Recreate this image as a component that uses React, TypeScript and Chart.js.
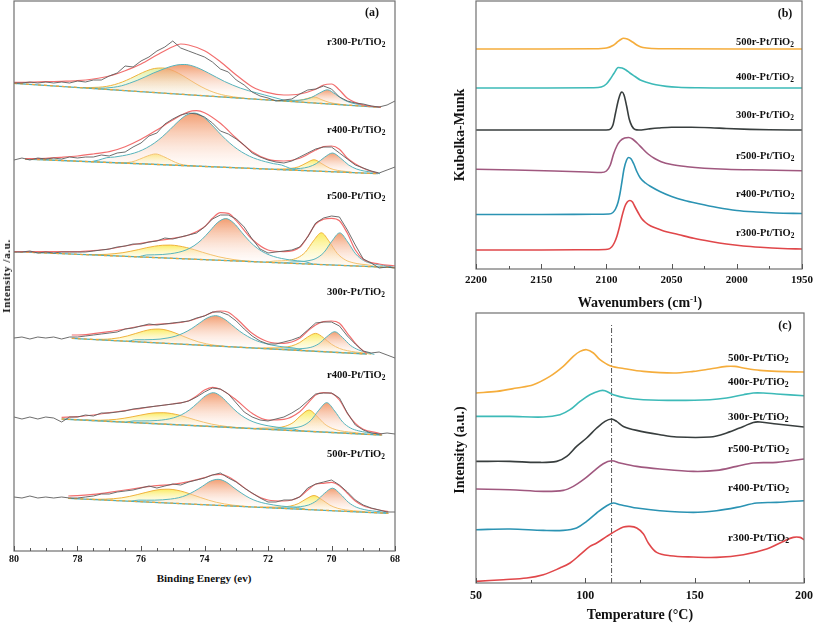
import React, { useEffect, useRef } from "react";
import { Chart, registerables } from "chart.js";

Chart.register(...registerables);

const FONT = "'Liberation Serif', 'Times New Roman', Times, serif";
Chart.defaults.font.family = FONT;

// ================= Panel (a): XPS Pt 4f =================
const xpsEnergy = [80, 79.75, 79.5, 79.25, 79, 78.75, 78.5, 78.25, 78, 77.75, 77.5, 77.25, 77, 76.75, 76.5, 76.25, 76, 75.75, 75.5, 75.25, 75, 74.75, 74.5, 74.25, 74, 73.75, 73.5, 73.25, 73, 72.75, 72.5, 72.25, 72, 71.75, 71.5, 71.25, 71, 70.75, 70.5, 70.25, 70, 69.75, 69.5, 69.25, 69, 68.75, 68.5, 68.25, 68];
const xpsTicks = { min: 68, max: 80, step: 0.5, major: 2 };

// r300-Pt/TiO2
const r300Raw = [468, 468, 469, 468, 469, 468, 469, 468, 470, 469, 471, 471, 475, 478, 485, 484, 490, 494, 500, 504, 510, 503, 500, 497, 494, 489, 482, 479, 471, 466, 459, 455, 453, 450, 451, 452, 457, 461, 462, 465, 462, 454, 450, 448, 447, 445, 444, 446, 450];
const r300Fit = [[80, 468.7], [79.5, 468.7], [79, 469.3], [78.5, 469.7], [78, 470.3], [77.5, 472], [77, 475], [76.5, 480.3], [76, 487], [75.5, 496], [75, 504.3], [74.75, 507], [74.5, 506], [74, 500.3], [73.5, 489.3], [73, 476], [72.5, 464.3], [72, 458.3], [71.5, 456], [71, 457], [70.5, 461.7], [70.25, 466], [70, 467], [69.75, 461], [69.5, 452.7], [69, 446], [68.45, 443.7]];
const r300Base = [[80, 467.7], [68.45, 443.7]];
const r300P1 = { from: 77.83, h: [0.3, 0.8, 1.6, 3, 5.3, 8.5, 12.5, 16.9, 21, 24, 25, 24, 21, 16.9, 12.5, 8.5, 5.3, 3, 1.6, 0.8, 0.3] };
const r300P2 = { from: 77.62, h: [0, 0.5, 1.2, 2.5, 4.5, 7.5, 11, 15, 19.2, 22.9, 26.4, 29, 30, 29, 26.4, 22.9, 19.2, 15.6, 12.6, 10, 8, 6.4, 4.8, 3.2, 1.6, 0] };
const r300P3 = { from: 71.55, h: [0, 0.6, 1.4, 3.6, 6, 3.6, 1.4, 0.6, 0] };
const r300P4 = { from: 71.63, h: [0, 0.9, 1.4, 2.5, 5.3, 10.2, 14, 10.2, 5.3, 2.5, 1.4, 0.9, 0] };

// r400-Pt/TiO2 (upper)
const r400Raw = [391, 393, 391, 393, 392, 393, 392, 394, 393, 394, 394, 396, 395, 398, 399, 404, 408, 415, 418, 427, 432, 436, 438, 437, 434, 428, 420, 417, 412, 406, 398, 394, 391, 389, 388, 390, 394, 398, 402, 404, 404, 398, 392, 386, 383, 380, 378, 381, 384];
const r400Fit = [[79.65, 392.3], [79, 392.7], [78.5, 393.7], [78, 395], [77.5, 397], [77, 399.3], [76.5, 404.3], [76, 411.7], [75.5, 421], [75, 431], [74.5, 439.3], [74.25, 440.3], [74, 438.3], [73.5, 427.7], [73, 412.7], [72.5, 399.3], [72, 391.7], [71.5, 390], [71, 392.7], [70.5, 401], [70.25, 404.3], [70, 405], [69.75, 401.7], [69.5, 392.7], [69, 382.7], [68.54, 377.7]];
const r400Base = [[79.65, 392], [68.54, 377.3]];
const r400P1 = { from: 76.79, h: [0, 0.4, 1.5, 4.6, 8.2, 10.5, 8.2, 4.6, 1.5, 0.4, 0] };
const r400P2 = { from: 77.58, h: [0, 2, 4.7, 5.7, 7.3, 9.3, 12.1, 16.1, 21.3, 27.9, 35.7, 43.8, 50.4, 53, 50.4, 43.8, 35.7, 27.9, 21.3, 16.1, 12.1, 9.3, 7.3, 5.7, 4.7, 2, 0] };
const r400P3 = { from: 71.8, h: [0, 0.9, 1.6, 3.4, 7.6, 11.3, 7.6, 3.4, 1.6, 0.9, 0] };
const r400P4 = { from: 71.47, h: [0, 1.4, 2.1, 3.9, 7.7, 14.2, 18.8, 14.2, 7.7, 3.9, 2.1, 1.4, 0] };

// r500-Pt/TiO2
const r500Raw = [299, 299, 300, 298, 299, 298, 299, 299, 299, 299, 300, 301, 302, 304, 305, 307, 307, 309, 310, 313, 312, 314, 316, 318, 324, 332, 336, 336, 332, 324, 312, 302, 298, 299, 300, 301, 304, 314, 328, 333, 335, 334, 321, 306, 292, 288, 283, 284, 283];
const r500Fit = [[80, 299.3], [79, 299.3], [78, 299.3], [77.5, 300.3], [77, 302], [76.5, 305], [76, 307.7], [75.5, 310.3], [75, 312.7], [74.5, 316], [74, 324.3], [73.75, 332.7], [73.5, 338.3], [73.25, 337.7], [73, 330.3], [72.5, 311.7], [72, 301], [71.5, 299.3], [71, 303.7], [70.75, 314.3], [70.5, 327], [70.25, 331.7], [70, 332.7], [69.75, 330.3], [69.5, 317.7], [69.25, 301], [69, 291.7], [68.5, 287], [68, 285]];
const r500Base = [[80, 299.3], [68, 283.3]];
const r500P1 = { from: 77.82, h: [0.2, 0.4, 0.7, 1.3, 2.3, 3.6, 5.4, 7.4, 9.6, 11.4, 12.7, 13.2, 12.7, 11.4, 9.6, 7.4, 5.4, 3.6, 2.3, 1.3, 0.7, 0.4, 0.2] };
const r500P2 = { from: 76.08, h: [0, 2.3, 2.8, 3.4, 4.5, 6.2, 9, 13.5, 20.2, 29, 37.9, 42, 37.9, 29, 20.2, 13.5, 9, 6.2, 4.5, 3.4, 2.8, 2.3, 0] };
const r500P3 = { from: 72.07, h: [0, 1.5, 2.1, 3.2, 5.8, 11.9, 23.3, 31.8, 23.3, 11.9, 5.8, 3.2, 2.1, 1.5, 0] };
const r500P4 = { from: 71.49, h: [0, 1.5, 2.1, 3.3, 5.9, 12.2, 23.8, 32.5, 23.8, 12.2, 5.9, 3.3, 2.1, 1.5, 0] };

// 300r-Pt/TiO2
const s300rRaw = [213, 214, 212, 214, 213, 214, 212, 214, 214, 215, 216, 217, 218, 219, 222, 223, 225, 227, 226, 227, 228, 229, 230, 233, 235, 239, 239, 236, 230, 222, 215, 210, 207, 207, 209, 211, 214, 221, 228, 229, 229, 225, 215, 207, 200, 198, 199, 196, 193];
const s300rFit = [[78.18, 216], [78, 216], [77.5, 217.3], [77, 219.3], [76.5, 222], [76, 225], [75.5, 226.7], [75, 227.7], [74.5, 230], [74, 235.3], [73.75, 238.7], [73.5, 240], [73.25, 238.7], [73, 232.7], [72.5, 217.7], [72, 209.3], [71.5, 207.7], [71, 212.7], [70.75, 220], [70.5, 226], [70.25, 229.3], [70, 230], [69.75, 227.7], [69.5, 217.7], [69.25, 207.7], [69, 200], [68.89, 197.7]];
const s300rBase = [[78.18, 212.7], [68.89, 197]];
const s300rP1 = { from: 77.43, h: [0.3, 0.7, 1.6, 3.1, 5.3, 8.1, 10.9, 13.1, 13.9, 13.1, 10.9, 8.1, 5.3, 3.1, 1.6, 0.7, 0.3] };
const s300rP2 = { from: 76.4, h: [0, 2, 2.4, 3, 3.9, 5.5, 7.8, 11.4, 16.2, 22.2, 27.8, 30.3, 27.8, 22.2, 16.2, 11.4, 7.8, 5.5, 3.9, 3, 2.4, 2, 0] };
const s300rP3 = { from: 72.25, h: [0, 1, 1.4, 2.3, 4.1, 7.9, 13.9, 17.9, 13.9, 7.9, 4.1, 2.3, 1.4, 1, 0] };
const s300rP4 = { from: 71.65, h: [0, 0.9, 1.3, 2.1, 3.7, 7.7, 15.1, 20.6, 15.1, 7.7, 3.7, 1.5, 0] };

// r400-Pt/TiO2 (lower)
const r400bRaw = [134, 132, 134, 132, 134, 133, 129, 134, 134, 136, 135, 138, 138, 139, 140, 142, 143, 144, 145, 146, 147, 148, 150, 154, 159, 163, 162, 157, 148, 139, 134, 131, 130, 132, 134, 138, 143, 150, 157, 158, 158, 153, 138, 126, 121, 118, 117, 118, 117];
const r400bFit = [[78.5, 133.7], [78, 134.3], [77.5, 136], [77, 138.3], [76.5, 140.3], [76, 142.7], [75.5, 145], [75, 147], [74.5, 150.3], [74.25, 155], [74, 161], [73.75, 163.7], [73.5, 161.7], [73, 151], [72.5, 137.7], [72, 131], [71.5, 131.7], [71, 139.3], [70.75, 147.7], [70.5, 156], [70.25, 158.3], [70, 157.7], [69.75, 151], [69.5, 137.7], [69.25, 127.7], [69, 121.7], [68.5, 117.7], [68.42, 116.7]];
const r400bBase = [[78.5, 132], [68.42, 116]];
const r400bP1 = { from: 77.78, h: [0.1, 0.3, 0.7, 1.4, 2.4, 3.9, 5.7, 7.7, 9.6, 10.9, 11.4, 10.9, 9.6, 7.7, 5.7, 3.9, 2.4, 1.4, 0.7, 0.3, 0.1] };
const r400bP2 = { from: 76.47, h: [0, 1.7, 2.1, 2.6, 3.4, 4.7, 6.8, 10.3, 15.6, 22.8, 30.3, 33.9, 30.3, 22.8, 15.6, 10.3, 6.8, 4.7, 3.4, 2.6, 2.1, 1.7, 0] };
const r400bP3 = { from: 72.46, h: [0, 1, 1.4, 2.1, 3.9, 8, 15.6, 21.3, 15.6, 8, 3.9, 2.1, 1.4, 1, 0] };
const r400bP4 = { from: 71.9, h: [0, 1.4, 1.9, 3, 5.4, 11.1, 21.7, 29.6, 21.7, 11.1, 5.4, 3, 1.9, 1.4, 0] };

// 500r-Pt/TiO2
const s500rRaw = [54, 53, 55, 53, 54, 53, 54, 53, 53, 54, 55, 57, 57, 59, 60, 61, 63, 65, 63, 65, 67, 66, 69, 71, 73, 76, 78, 73, 69, 63, 58, 53, 49, 49, 51, 51, 54, 63, 67, 69, 71, 66, 59, 51, 46, 43, 41, 39, 39];
const s500rFit = [[78.29, 55], [78, 55.3], [77.5, 56.7], [77, 58.7], [76.5, 61], [76, 63.3], [75.5, 65.3], [75, 66.7], [74.5, 69.3], [74, 73.3], [73.75, 76], [73.5, 76.7], [73.25, 74.3], [73, 69.3], [72.5, 57.7], [72, 51], [71.5, 50], [71, 54.3], [70.75, 61], [70.5, 66.7], [70.25, 67.7], [70, 68.7], [69.75, 65.3], [69.5, 57.7], [69.25, 50], [69, 45.3], [68.5, 41], [68.21, 39.3]];
const s500rBase = [[78.29, 52.7], [68.21, 37.7]];
const s500rP1 = { from: 77.62, h: [0.2, 0.4, 0.9, 1.7, 2.9, 4.7, 6.9, 9.3, 11.6, 13.2, 13.8, 13.2, 11.6, 9.3, 6.9, 4.7, 2.9, 1.7, 0.9, 0.4, 0.2] };
const s500rP2 = { from: 76.32, h: [0, 1.5, 1.8, 2.2, 2.9, 4, 5.7, 8.6, 13, 18.2, 23.7, 26, 23.7, 18.2, 13, 8.6, 5.7, 4, 2.9, 2.2, 1.8, 1.5, 0] };
const s500rP3 = { from: 72.3, h: [0, 0.7, 0.9, 1.4, 2.6, 5.4, 10.5, 14.3, 10.5, 5.4, 2.6, 1.4, 0.9, 0.7, 0] };
const s500rP4 = { from: 71.72, h: [0, 1.2, 1.6, 2.6, 4.6, 9.2, 17, 22.5, 17, 9.2, 4.6, 2.6, 1.6, 1.2, 0] };

const xpsNames = ["r300", "r400", "r500", "300r", "r400", "500r"];

// ================= Panel (b): DRIFTS CO =================
const kmTicks = { min: 1950, max: 2200, step: 25, major: 50 };
const km500r = [[2200, 220], [2150, 220], [2110, 220.2], [2100, 221], [2095, 223.5], [2092, 226.5], [2089, 229.5], [2087, 230.7], [2084, 230], [2080, 227], [2076, 223.5], [2072, 221.5], [2065, 220.5], [2050, 220.2], [2000, 220], [1950, 220]];
const km400r = [[2200, 181], [2150, 181], [2110, 181.2], [2104, 182], [2100, 185], [2097, 190], [2094, 196], [2091, 201.5], [2088, 201], [2085, 199], [2082, 196], [2078, 192.5], [2074, 189], [2068, 186.3], [2062, 184.2], [2054, 182.6], [2045, 181.7], [2030, 181.2], [2000, 181], [1950, 181]];
const km300r = [[2200, 139], [2150, 139], [2110, 139], [2098, 139.3], [2095, 144], [2093, 156], [2091, 168], [2089, 176], [2088, 177], [2086.5, 174], [2084.5, 163], [2082.5, 150], [2080.5, 143], [2078, 139.5], [2075, 139], [2068, 140], [2060, 141], [2050, 141.8], [2035, 141.8], [2020, 141.3], [2008, 140.5], [1990, 139.6], [1975, 139.2], [1950, 139]];
const kmR500 = [[2200, 99.7], [2170, 99], [2140, 98], [2115, 97], [2104, 96.5], [2100, 98], [2097, 104], [2094.5, 115], [2092, 123], [2089.5, 128], [2086, 131], [2083, 131.5], [2080, 130], [2076.5, 126], [2072, 120], [2068, 115], [2063, 110.5], [2058, 107.3], [2050, 104.5], [2038, 102.3], [2025, 100.8], [2008, 99.7], [1980, 99], [1950, 98.3]];
const kmR400 = [[2200, 54.5], [2150, 54.5], [2110, 54.7], [2098, 55], [2095, 56.5], [2093, 60], [2091, 67], [2089.5, 76], [2088, 88], [2086.5, 100], [2084.5, 109], [2083, 111.5], [2081, 110], [2079, 105], [2076.5, 97], [2074, 91], [2070, 86], [2066, 82.5], [2059, 77.5], [2050, 72.5], [2040, 68.5], [2030, 65.5], [2015, 61.5], [2000, 58.5], [1985, 57], [1970, 56], [1950, 55.5]];
const kmR300 = [[2200, 19], [2150, 19], [2110, 19.3], [2099, 19.8], [2096, 22], [2094, 26], [2092, 32.5], [2090, 42], [2088, 53], [2086, 62], [2084, 67], [2082, 68.5], [2080, 67], [2078, 62], [2075.5, 56], [2073, 50.5], [2070, 46.5], [2066, 43], [2060, 40], [2054, 37.3], [2045, 34.5], [2033, 30.7], [2020, 27.5], [2008, 25], [1995, 23], [1982, 21.7], [1965, 20.5], [1950, 20]];
const kmNames = ["500r", "400r", "300r", "r500", "r400", "r300"];

// ================= Panel (c): CO-TPD =================
const tpdTicks = { min: 50, max: 200, step: 25, major: 50 };
const tpd500r = [[50, 190], [59.5, 191.6], [68.6, 195], [76.2, 198.3], [83.8, 206.6], [89.9, 216.6], [94.5, 226.6], [97.6, 231.6], [100.6, 233.3], [103.7, 230], [106.7, 223.3], [111.3, 217.3], [118.9, 214], [126.5, 211.6], [140.2, 210], [149.4, 211.6], [157, 214], [164.6, 216.6], [168.4, 216.6], [172.3, 215], [179.9, 212.6], [187.5, 211.6], [200, 211]];
const tpd400r = [[50, 166.6], [65.5, 166.6], [80.8, 166], [88.4, 168.3], [93, 173.3], [97.6, 181.6], [102.1, 188.3], [106.7, 192.3], [109, 192.3], [112.8, 188.3], [118.9, 185], [126.5, 183.3], [141.8, 182.6], [157, 183.3], [164.6, 185], [172.3, 188.3], [176.8, 190], [181.4, 190], [187.5, 189], [200, 187.3]];
const tpd300r = [[50, 121.6], [65.5, 121.6], [77.7, 120.6], [86.9, 121.6], [91.5, 126.6], [96, 136.6], [100.6, 145], [105.2, 155], [109, 161.6], [112, 164], [114.3, 161.6], [117.4, 156.6], [123.5, 152.6], [134.1, 148.3], [141.8, 146], [157, 146], [164.6, 150], [172.3, 156.6], [176.8, 160.6], [179.9, 161], [187.5, 159], [200, 156]];
const tpdR500 = [[50, 94], [65.5, 93.3], [80.8, 91.6], [89.9, 92.6], [94.5, 96.6], [99.1, 103.3], [103.7, 111.6], [108.2, 119.3], [112, 122.3], [115.9, 120], [123.5, 116.6], [134.1, 114], [149.4, 111.6], [160, 112.6], [169.2, 116.6], [176.8, 120], [187.5, 120.6], [200, 124]];
const tpdR400 = [[50, 53.3], [65.5, 54], [80.8, 52.6], [89.9, 52.6], [96, 55], [100.6, 61.6], [105.2, 70], [109.8, 77.3], [112.8, 80], [115.9, 78.3], [123.5, 75], [134.1, 72.3], [149.4, 70.6], [160, 72.3], [169.2, 75.6], [178.4, 80], [187.5, 80.6], [200, 82.3]];
const tpdR300 = [[50, 1.6], [62.5, 3.3], [73.2, 5], [80.8, 8.3], [88.4, 15], [93, 20], [97.6, 28.3], [102.1, 36.6], [105.2, 40], [109.8, 46.6], [114.3, 52.6], [117.4, 56], [120.4, 56.6], [123.5, 55], [126.5, 49.3], [128.8, 40], [132.6, 30.6], [138.7, 27.3], [149.4, 26], [160, 25.6], [172.3, 28.3], [182.9, 34], [190.5, 41.6], [195.1, 45.6], [198.2, 45.6], [200, 43.3]];
const tpdMarker = [[112, 0], [112, 260]];
const tpdNames = ["500r", "400r", "300r", "r500", "r400", "r300"];

// ================= styles & helpers =================
const SERIES_COLORS = ["#f5ad3c", "#3dbab8", "#383e3e", "#a0587f", "#2b93b3", "#e0474a"];
const FILLS: any = {
  o: { top: "rgba(240,140,88,0.85)", bot: "rgba(255,242,235,0.25)", line: "#56b4bd" },
  y: { top: "rgba(250,232,70,0.85)", bot: "rgba(255,253,225,0.25)", line: "#f0b23c" },
  g: { top: "rgba(220,238,150,0.85)", bot: "rgba(240,250,225,0.25)", line: "#f0b23c" },
};
const STEP = 0.25;

type Comp = { from: number; h: number[] };
const xpsSpectra: { raw: number[]; fit: number[][]; base: number[][]; comps: [Comp, string][] }[] = [
  { raw: r300Raw, fit: r300Fit, base: r300Base, comps: [[r300P1, "g"], [r300P2, "o"], [r300P3, "y"], [r300P4, "o"]] },
  { raw: r400Raw, fit: r400Fit, base: r400Base, comps: [[r400P1, "y"], [r400P2, "o"], [r400P3, "y"], [r400P4, "o"]] },
  { raw: r500Raw, fit: r500Fit, base: r500Base, comps: [[r500P1, "y"], [r500P2, "o"], [r500P3, "y"], [r500P4, "o"]] },
  { raw: s300rRaw, fit: s300rFit, base: s300rBase, comps: [[s300rP1, "y"], [s300rP2, "o"], [s300rP3, "y"], [s300rP4, "o"]] },
  { raw: r400bRaw, fit: r400bFit, base: r400bBase, comps: [[r400bP1, "y"], [r400bP2, "o"], [r400bP3, "y"], [r400bP4, "o"]] },
  { raw: s500rRaw, fit: s500rFit, base: s500rBase, comps: [[s500rP1, "y"], [s500rP2, "o"], [s500rP3, "y"], [s500rP4, "o"]] },
];

function baseAt(base: number[][], e: number) {
  const [[e0, v0], [e1, v1]] = base;
  return v0 + ((v1 - v0) * (e - e0)) / (e1 - e0);
}
const pts = (arr: number[][]) => arr.map(([x, y]) => ({ x, y }));

function gradientFill(top: string, bot: string) {
  return (c: any) => {
    const chart = c.chart;
    const ds = c.dataset;
    if (!chart.chartArea || !ds || ds.gTop === undefined) return top;
    const ys = chart.scales.y;
    const t = ys.getPixelForValue(ds.gTop);
    const b = ys.getPixelForValue(ds.gBot);
    const g = chart.ctx.createLinearGradient(0, t, 0, b + 0.5);
    g.addColorStop(0, top);
    g.addColorStop(1, bot);
    return g;
  };
}

function xpsDatasets() {
  const out: any[] = [];
  xpsSpectra.forEach((s) => {
    out.push({ data: xpsEnergy.map((e, i) => ({ x: e, y: s.raw[i] })), borderColor: "#5e5e5e", borderWidth: 0.9, tension: 0, order: 1 });
    out.push({ data: pts(s.fit), borderColor: "#f26e6e", borderWidth: 1.2, cubicInterpolationMode: "monotone", order: 2 });
    out.push({ data: pts(s.base), borderColor: "#f0a63a", borderWidth: 1.3, borderDash: [3, 3], order: 3 });
    out.push({ data: pts(s.base), borderColor: "#4eaeb5", borderWidth: 1.3, order: 4 });
    s.comps.forEach(([comp, kind]) => {
      const xs = comp.h.map((_, i) => comp.from - i * STEP);
      const hmax = Math.max(...comp.h);
      const center = xs[comp.h.indexOf(hmax)];
      const b0 = baseAt(s.base, center);
      out.push({ data: xs.map((x) => ({ x, y: baseAt(s.base, x) })), borderWidth: 0, borderColor: "rgba(0,0,0,0)", order: 9 });
      const f = FILLS[kind];
      out.push({
        data: xs.map((x, i) => ({ x, y: baseAt(s.base, x) + comp.h[i] })),
        fill: "-1",
        backgroundColor: gradientFill(f.top, f.bot),
        borderColor: f.line,
        borderWidth: 1,
        cubicInterpolationMode: "monotone",
        order: kind === "o" ? 5 : 6,
        gTop: b0 + hmax,
        gBot: b0,
      });
    });
  });
  return out;
}

function curveDatasets(series: number[][][], smooth: string) {
  return series.map((s, i) => ({
    data: pts(s),
    borderColor: SERIES_COLORS[i],
    borderWidth: 1.6,
    ...(smooth === "monotone" ? { cubicInterpolationMode: "monotone" } : { tension: 0.35 }),
  }));
}

const framePlugin = {
  id: "frameTicks",
  afterDraw(chart: any) {
    const { ctx, chartArea: a, scales } = chart;
    const major = chart.options.plugins.frameTicks.major;
    ctx.save();
    ctx.strokeStyle = "#707070";
    ctx.lineWidth = 1.2;
    ctx.strokeRect(a.left, a.top, a.right - a.left, a.bottom - a.top);
    ctx.beginPath();
    ctx.lineWidth = 1;
    ctx.strokeStyle = "#555";
    scales.x.ticks.forEach((t: any) => {
      const px = Math.round(scales.x.getPixelForValue(t.value)) + 0.5;
      const isMajor = Math.abs(t.value % major) < 1e-6;
      ctx.moveTo(px, a.bottom);
      ctx.lineTo(px, a.bottom - (isMajor ? 5 : 3));
    });
    ctx.stroke();
    ctx.restore();
  },
};

function makeConfig(datasets: any[], t: { min: number; max: number; step: number; major: number }, opts: any) {
  return {
    type: "line",
    data: { datasets },
    options: {
      responsive: false,
      animation: false,
      events: [],
      layout: { padding: opts.padding },
      elements: { point: { radius: 0 } },
      plugins: { legend: { display: false }, tooltip: { enabled: false }, frameTicks: { major: t.major } },
      scales: {
        x: {
          type: "linear",
          reverse: opts.reverse,
          min: t.min,
          max: t.max,
          grid: { display: false, drawTicks: false },
          border: { display: false },
          ticks: {
            stepSize: t.step,
            autoSkip: false,
            maxRotation: 0,
            padding: opts.tickPad,
            color: "#111",
            font: { size: opts.tickSize, weight: "bold", family: FONT },
            callback: (v: number) => (Math.abs(v % t.major) < 1e-6 ? String(v) : ""),
          },
          afterFit: (s: any) => {
            s.height = opts.axisH;
          },
        },
        y: { display: false, min: 0, max: opts.ymax },
      },
    },
    plugins: [framePlugin],
  };
}

function ChartBox({ make, left, top, width, height }: any) {
  const ref = useRef<HTMLCanvasElement>(null);
  useEffect(() => {
    const c = new Chart(ref.current as HTMLCanvasElement, make());
    return () => c.destroy();
  }, []);
  return <canvas ref={ref} width={width} height={height} style={{ position: "absolute", left, top, width, height }} />;
}

function Sample({ name, x, y, size }: any) {
  return (
    <div style={{ position: "absolute", left: x, top: y - size * 0.6, font: `bold ${size}px ${FONT}`, color: "#111", whiteSpace: "nowrap", lineHeight: `${size * 1.2}px` }}>
      {name}-Pt/TiO<sub style={{ fontSize: size * 0.7, verticalAlign: "-0.3em", lineHeight: 0 }}>2</sub>
    </div>
  );
}

function Text({ x, y, size, rotate, children, spacing }: any) {
  return (
    <div
      style={{
        position: "absolute",
        left: x,
        top: y,
        transform: `translate(-50%, -50%)${rotate ? " rotate(-90deg)" : ""}`,
        font: `bold ${size}px ${FONT}`,
        color: "#111",
        whiteSpace: "nowrap",
        letterSpacing: spacing || 0,
      }}
    >
      {children}
    </div>
  );
}

const labelsA = [42, 130, 196, 292, 375, 454];
const labelsB = [42, 77, 115, 156, 194, 233];
const labelsC = [358, 382, 417, 449, 488, 538];

export default function App() {
  return (
    <div style={{ position: "fixed", left: 0, top: 0, width: 813, height: 624, background: "#fff", overflow: "hidden", fontFamily: FONT }}>
      <ChartBox
        left={0}
        top={0}
        width={405}
        height={570}
        make={() => makeConfig(xpsDatasets(), xpsTicks, { padding: { left: 14, right: 10, top: 1, bottom: 0 }, reverse: true, tickPad: 2, tickSize: 10, axisH: 19, ymax: 550 })}
      />
      <ChartBox
        left={440}
        top={0}
        width={380}
        height={292}
        make={() =>
          makeConfig(curveDatasets([km500r, km400r, km300r, kmR500, kmR400, kmR300], "monotone"), kmTicks, {
            padding: { left: 36, right: 18, top: 1, bottom: 0 },
            reverse: true,
            tickPad: 5,
            tickSize: 11,
            axisH: 23,
            ymax: 268,
          })
        }
      />
      <ChartBox
        left={440}
        top={300}
        width={380}
        height={310}
        make={() =>
          makeConfig(
            [
              ...curveDatasets([tpd500r, tpd400r, tpd300r, tpdR500, tpdR400, tpdR300], "bezier"),
              { data: pts(tpdMarker), borderColor: "#555", borderWidth: 1, borderDash: [5, 2, 1, 2] },
            ],
            tpdTicks,
            { padding: { left: 36, right: 16, top: 13, bottom: 0 }, reverse: false, tickPad: 6, tickSize: 12, axisH: 27, ymax: 270 }
          )
        }
      />

      {xpsNames.map((n, i) => (
        <Sample key={"a" + i} name={n} x={327} y={labelsA[i]} size={10.5} />
      ))}
      {kmNames.map((n, i) => (
        <Sample key={"b" + i} name={n} x={736} y={labelsB[i]} size={10.5} />
      ))}
      {tpdNames.map((n, i) => (
        <Sample key={"c" + i} name={n} x={728} y={labelsC[i]} size={11} />
      ))}

      <Text x={372} y={12} size={12}>(a)</Text>
      <Text x={785} y={13} size={12}>(b)</Text>
      <Text x={785} y={325} size={12}>(c)</Text>

      <Text x={204} y={578} size={11}>Binding Energy (ev)</Text>
      <Text x={6} y={276} size={11} rotate spacing="0.6px">Intensity /a.u.</Text>

      <Text x={640} y={303} size={14}>
        Wavenumbers (cm<sup style={{ fontSize: 9, verticalAlign: "0.6em", lineHeight: 0 }}>-1</sup>)
      </Text>
      <Text x={460} y={135} size={14} rotate>Kubelka-Munk</Text>

      <Text x={640} y={615} size={14}>Temperature (°C)</Text>
      <Text x={460} y={450} size={14} rotate>Intensity (a.u.)</Text>
    </div>
  );
}
